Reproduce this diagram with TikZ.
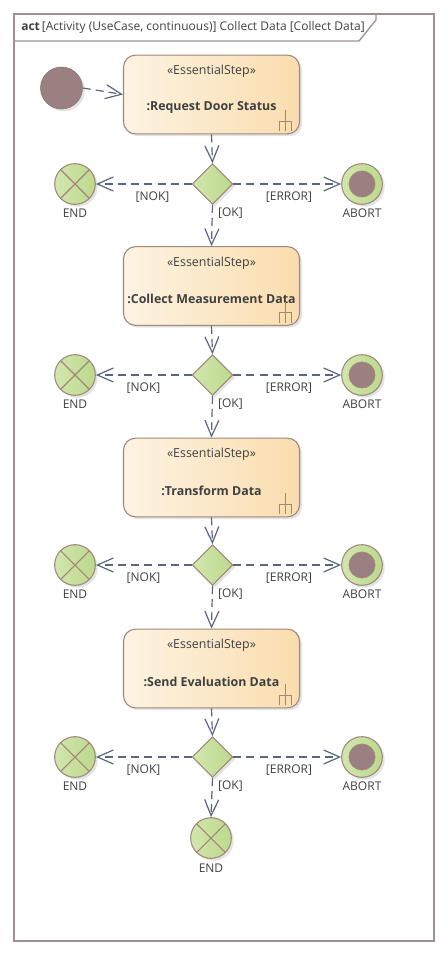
\documentclass[tikz,border=0pt]{standalone}
\usepackage{fontspec}
\setmainfont{Open Sans}
\usetikzlibrary{arrows.meta,shadows,shapes.geometric,calc}
\definecolor{edgec}{HTML}{5B6480}
\definecolor{framec}{HTML}{A09090}
\definecolor{brownb}{HTML}{A08878}
\definecolor{startc}{HTML}{9A8080}
\definecolor{boxl}{HTML}{FDF3E3}
\definecolor{boxr}{HTML}{FADDAE}
\definecolor{greenl}{HTML}{D2E6AE}
\definecolor{greenr}{HTML}{BCD98C}
\definecolor{textc}{HTML}{404040}
\tikzset{
  sh/.style={drop shadow={shadow xshift=1.8pt,shadow yshift=-1.8pt,opacity=0.22,fill=gray}},
  actbox/.style={draw=brownb,line width=0.8pt,rounded corners=9pt,minimum width=132pt,minimum height=59pt,
    left color=boxl,right color=boxr,shading angle=90,sh},
  dec/.style={diamond,draw=brownb,line width=0.8pt,minimum width=30.5pt,minimum height=30.5pt,inner sep=0pt,
    left color=greenl,right color=greenr,sh},
  endn/.style={circle,draw=brownb,line width=0.8pt,minimum size=30.5pt,inner sep=0pt,left color=greenl,right color=greenr,sh,
    path picture={\draw[brownb,line width=0.8pt] (path picture bounding box.south west)--(path picture bounding box.north east)
      (path picture bounding box.north west)--(path picture bounding box.south east);}},
  abortn/.style={circle,draw=brownb,line width=0.8pt,minimum size=30.5pt,inner sep=0pt,left color=greenl,right color=greenr,sh,
    path picture={\fill[startc] (path picture bounding box.center) circle (9.8pt);\draw[brownb,line width=0.5pt] (path picture bounding box.center) circle (9.8pt);}},
  startn/.style={circle,fill=startc,draw=startc!90!black,line width=0.4pt,minimum size=31.5pt,inner sep=0pt,sh},
  flow/.style={draw=edgec,line width=0.9pt,dash pattern=on 6pt off 3.8pt,-{Straight Barb[length=12pt,width=10.5pt,line width=0.9pt]}},
  txt/.style={font=\fontsize{9}{10.8}\selectfont,text=textc,inner sep=0pt},
  stxt/.style={font=\fontsize{9.3}{11}\selectfont,text=textc,inner sep=0pt},
  btxt/.style={font=\fontsize{9.3}{11}\selectfont\bfseries,text=textc,inner sep=0pt},
}
\newcommand{\forkicon}[1]{%
  \draw[brownb,line width=0.7pt] ($(#1.south east)+(-15,-24)$)--($(#1.south east)+(-15,-3)$)
    ($(#1.south east)+(-21,-3)$)--($(#1.south east)+(-21,-13)$)--($(#1.south east)+(-9,-13)$)--($(#1.south east)+(-9,-3)$);}
\begin{document}
\begin{tikzpicture}[x=0.75pt,y=-0.75pt]
\useasboundingbox (0,0) rectangle (448,959);
% frame
\draw[framec,line width=1.3pt] (14,14) rectangle (434,941);
\draw[framec,line width=1pt] (14,41) -- (359,41) -- (376,20) -- (376,14);
\node[anchor=base west,inner sep=0pt,font=\fontsize{9}{10.8}\selectfont,text=textc] (title) at (21,30.5)
  {\textbf{act}\,[Activity (UseCase, continuous)] Collect Data [Collect Data]};
% start
\node[startn] (start) at (61.5,88) {};
% boxes
\foreach \n/\y/\lab in {b1/94.5/:Request Door Status, b2/286/:Collect Measurement Data, b3/477.5/:Transform Data, b4/668.5/:Send Evaluation Data}{
  \node[actbox] (\n) at (211.5,\y) {};
  \node[stxt] (\n s) at ($(\n.north)+(0,17)$) {«EssentialStep»};
  \node[btxt] (\n t) at ($(\n.north)+(0,53)$) {\lab};
  \forkicon{\n}
}
% decisions and finals
\foreach \i/\y/\nx in {1/184/-60, 2/375/-69, 3/565/-69, 4/757/-69}{
  \node[dec] (d\i) at (212.5,\y) {};
  \node[endn] (e\i) at (75,\y) {};
  \node[abortn] (a\i) at (362,\y) {};
  \node[txt] (el\i) at ($(e\i)+(0,29)$) {END};
  \node[txt] (al\i) at ($(a\i)+(0,29)$) {ABORT};
  \node[txt] (nok\i) at ($(d\i)+(\nx,13)$) {[NOK]};
  \node[txt] (err\i) at ($(d\i)+(76.5,13)$) {[ERROR]};
  \node[txt] (ok\i) at ($(d\i)+(18,29.5)$) {[OK]};
  \draw[flow] (d\i.west) -- (e\i.east);
  \draw[flow] (d\i.east) -- (a\i.west);
}
\node[endn] (fin) at (211,838) {};
\node[txt] (finl) at ($(fin)+(0,30)$) {END};
% flows
\draw[flow] (start.east) -- (b1.west);
\draw[flow] (b1.south) -- (d1.north);
\draw[flow] (d1.south) -- (b2.north);
\draw[flow] (b2.south) -- (d2.north);
\draw[flow] (d2.south) -- (b3.north);
\draw[flow] (b3.south) -- (d3.north);
\draw[flow] (d3.south) -- (b4.north);
\draw[flow] (b4.south) -- (d4.north);
\draw[flow] (d4.south) -- (fin.north);
\end{tikzpicture}
\end{document}
